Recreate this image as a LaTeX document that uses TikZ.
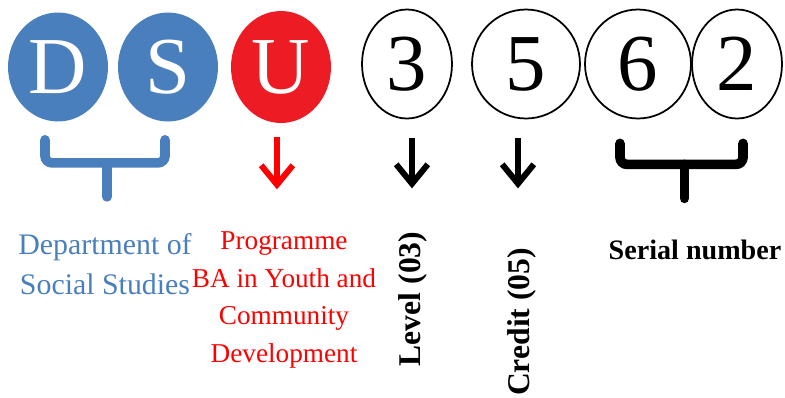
\documentclass[tikz,border=0pt]{standalone}
\usepackage{fontspec}
\setmainfont{Liberation Serif}
\usetikzlibrary{arrows.meta,positioning,shapes.geometric,calc}
\definecolor{dsublue}{RGB}{74,127,189}
\definecolor{dsured}{RGB}{237,28,36}
\begin{document}
\begin{tikzpicture}[x=0.02cm, y=-0.02cm, >={Straight Barb[length=11pt,width=18pt]},
  big/.style={ellipse, minimum width=2cm, minimum height=2.18cm, inner sep=0pt,
    font=\fontsize{46}{46}\selectfont},
  dsu/.style={big, text=white},
  num/.style={big, draw=black, line width=1pt},
  brk/.style={line width=5.5pt, line cap=round, rounded corners=4pt},
  arr/.style={line width=3.4pt, ->},
  lbl/.style={align=center, font=\fontsize{17}{23}\selectfont}]
\useasboundingbox (0,0) rectangle (785,397);
% letter and digit circles
\node[dsu, fill=dsublue] (d) at (58,67) {D};
\node[dsu, fill=dsublue] (s) at (168,67) {S};
\node[dsu, fill=dsured, minimum height=2.24cm] (u) at (281,67) {U};
\node[num, minimum width=1.8cm] (n3) at (407,64) {3};
\node[num, minimum width=2.16cm] (n5) at (526,64) {5};
\node[num, minimum width=2.12cm] (n6) at (638,64) {6};
\node[num, minimum width=1.8cm] (n2) at (737,64) {2};
% labels
\node[lbl, text=dsublue] (dep) at (105,264) {Department of\\Social Studies};
\node[lbl, text=red, font=\fontsize{15.5}{21.5}\selectfont] (prog) at (284,300) {Programme\\BA in Youth and\\Community\\Development};
\node[lbl, rotate=90, font=\fontsize{18}{21}\selectfont\bfseries] (lev) at (413,299) {Level (03)};
\node[lbl, rotate=90, font=\fontsize{18}{21}\selectfont\bfseries] (cred) at (522,322) {Credit (05)};
\node[lbl, font=\fontsize{16}{20}\selectfont\bfseries] (ser) at (695,250) {Serial number};
% brackets and arrows
\draw[brk, dsublue] ($(d.south)+(-13,18)$) -- ($(d.south)+(-13,41)$) -- ($(s.south)+(-3,41)$) -- ($(s.south)+(-3,18)$);
\draw[brk, dsublue] ($(d.south)!0.5!(s.south)+(-6,41)$) -- ($(d.south)!0.5!(s.south)+(-6,75)$);
\draw[brk] ($(n6.south)+(-18,24)$) -- ($(n6.south)+(-18,45)$) -- ($(n2.south)+(6,45)$) -- ($(n2.south)+(6,24)$);
\draw[brk] ($(n6.south)!0.5!(n2.south)+(-3,45)$) -- ($(n6.south)!0.5!(n2.south)+(-3,79)$);
\draw[arr, red] ($(u.south)+(-4,14)$) -- ($(u.south)+(-4,66)$);
\draw[arr] ($(n3.south)+(5,19)$) -- ($(n3.south)+(5,69)$);
\draw[arr] ($(n5.south)+(-8,19)$) -- ($(n5.south)+(-8,69)$);
\end{tikzpicture}
\end{document}
